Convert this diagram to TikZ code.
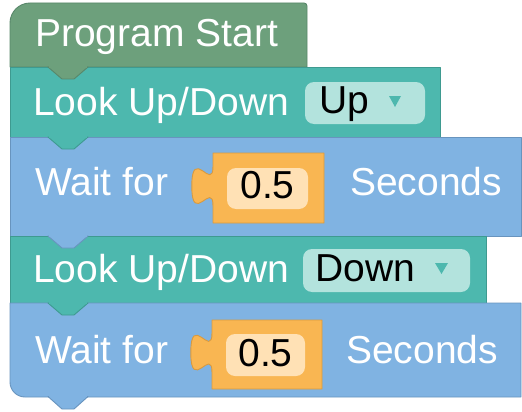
\documentclass[tikz,border=0pt]{standalone}
\usepackage{fontspec}
\setmainfont{Liberation Sans}
\definecolor{gblk}{HTML}{6DA07C}
\definecolor{gdark}{HTML}{58876A}
\definecolor{tblk}{HTML}{4DB8AE}
\definecolor{tdark}{HTML}{3E9A90}
\definecolor{tlight}{HTML}{B3E3DD}
\definecolor{bblk}{HTML}{80B3E2}
\definecolor{bdark}{HTML}{6894BE}
\definecolor{oblk}{HTML}{F9B652}
\definecolor{odark}{HTML}{D89A40}
\definecolor{olight}{HTML}{FFE1B5}
\tikzset{
  txt/.style={inner sep=0pt, font=\fontsize{39}{42}\selectfont, text=white, anchor=base west},
  fldtxt/.style={inner sep=0pt, font=\fontsize{39}{42}\selectfont, text=black, anchor=base},
  ddtxt/.style={inner sep=0pt, font=\fontsize{39}{42}\selectfont, text=black, anchor=base west},
  blk/.style={line width=0.9pt, line join=round},
}
\begin{document}
\begin{tikzpicture}[x=1pt,y=-1pt]
\useasboundingbox (0,0) rectangle (522,412);
% ---- block bodies
\filldraw[blk, fill=gblk, draw=gdark] (10,67) [rounded corners=20pt] -- (10,3) [rounded corners=3pt] -- (307,3) [sharp corners] -- (307,67) -- cycle;
\filldraw[blk, fill=tblk, draw=tdark] (10,67) rectangle (440,137);
\filldraw[blk, fill=bblk, draw=bdark] (10,137) rectangle (521,236);
\filldraw[blk, fill=tblk, draw=tdark] (10,236) rectangle (486,303);
\filldraw[blk, fill=bblk, draw=bdark] (521,303) -- (10,303) [rounded corners=15pt] -- (10,397) [sharp corners] -- (521,397) -- cycle;
% ---- tabs (previous block's colour)
\filldraw[blk, fill=gblk, draw=gdark] (48,67) -- (62,79) -- (74,79) -- (88,67) -- cycle;
\filldraw[blk, fill=tblk, draw=tdark] (48,137) -- (62,149) -- (74,149) -- (88,137) -- cycle;
\filldraw[blk, fill=bblk, draw=bdark] (48,236) -- (62,248) -- (74,248) -- (88,236) -- cycle;
\filldraw[blk, fill=tblk, draw=tdark] (48,303) -- (62,315) -- (74,315) -- (88,303) -- cycle;
\filldraw[blk, fill=bblk, draw=bdark] (48,396.5) -- (62,409) -- (74,409) -- (88,396.5) -- cycle;
\fill[gblk] (49,66) rectangle (87,67.6);
\fill[tblk] (49,136) rectangle (87,137.6);
\fill[bblk] (49,235) rectangle (87,236.6);
\fill[tblk] (49,302) rectangle (87,303.6);
\fill[bblk] (49,395.5) rectangle (87,397.2);
% ---- number blocks
\filldraw[blk, fill=oblk, draw=odark] (213,153) -- (324,153) -- (324,223) -- (213,223) -- (213,206)
  .. controls (213,179.5) and (191.8,227.2) .. (191.8,186.1)
  .. controls (191.8,145) and (213,192.75) .. (213,166.25) -- cycle;
\fill[olight, rounded corners=9pt] (227,168) rectangle (308,209);
\filldraw[blk, fill=oblk, draw=odark] (212,320) -- (322,320) -- (322,389) -- (212,389) -- (212,372.5)
  .. controls (212,346) and (190.8,393.5) .. (190.8,352.6)
  .. controls (190.8,311.5) and (212,359.3) .. (212,333) -- cycle;
\fill[olight, rounded corners=9pt] (226,334) rectangle (305,376);
% ---- dropdown fields
\fill[tlight, rounded corners=9pt] (305,82) rectangle (425,124);
\fill[tblk] (389,96) -- (401,96) -- (395,107) -- cycle;
\fill[tlight, rounded corners=9pt] (303,249) rectangle (470,292);
\fill[tblk] (435,263) -- (448,263) -- (441.5,274) -- cycle;
% ---- texts
\node[txt] (ps) at (35,47) {Program Start};
\node[txt] (lk1) at (33,115) {Look Up/Down};
\node[ddtxt] (up) at (319,113) {Up};
\node[txt] (w1) at (35,195) {Wait for};
\node[fldtxt] (n1) at (267.5,198) {0.5};
\node[txt] (s1) at (350,195) {Seconds};
\node[txt] (lk2) at (33,282) {Look Up/Down};
\node[ddtxt] (dn) at (315,281) {Down};
\node[txt] (w2) at (35,363) {Wait for};
\node[fldtxt] (n2) at (265.5,366) {0.5};
\node[txt] (s2) at (346,363) {Seconds};
\end{tikzpicture}
\end{document}
